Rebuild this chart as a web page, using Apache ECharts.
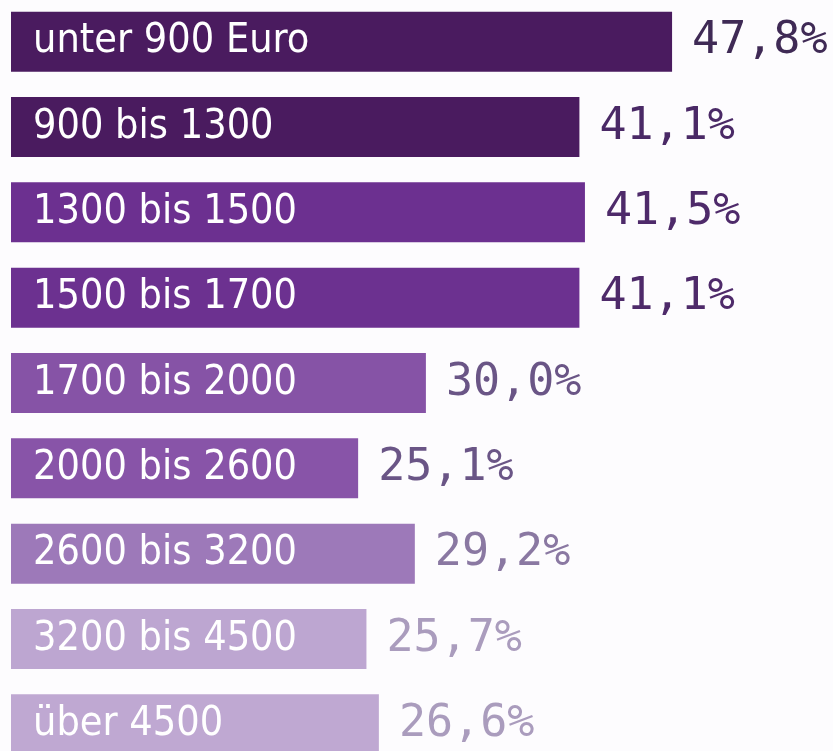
<!DOCTYPE html>
<html>
<head>
<meta charset="utf-8">
<script src="https://cdn.jsdelivr.net/npm/echarts@6/dist/echarts.min.js"></script>
<style>
  html, body { margin: 0; padding: 0; background: #fdfcfe; overflow: hidden; }
  #main { position: absolute; left: 0; top: -1px; width: 833px; height: 768px; }
</style>
</head>
<body>
<div id="main"></div>
<script>
// Einkommensklassen und Anteile (%)
var categories = ['unter 900 Euro', '900 bis 1300', '1300 bis 1500', '1500 bis 1700',
  '1700 bis 2000', '2000 bis 2600', '2600 bis 3200', '3200 bis 4500', 'über 4500'];
var values = [47.8, 41.1, 41.5, 41.1, 30.0, 25.1, 29.2, 25.7, 26.6];

var barColors = ['#4a1b5f', '#4a1b5f', '#6c3090', '#6c3190', '#8653a6',
  '#8854a8', '#9d79b9', '#bda6d1', '#bfa8d2'];
var valueColors = ['#3f2a55', '#4a2966', '#4e2a6a', '#4e2a6a', '#6a5586',
  '#6a5586', '#8a78a2', '#aa9cbd', '#aa9cbd'];

var chart = echarts.init(document.getElementById('main'), null, { renderer: 'canvas' });

var option = {
  backgroundColor: '#fdfcfe',
  animation: false,
  grid: {
    left: 11,
    top: 0,
    width: 691.5,
    bottom: 0
  },
  xAxis: {
    type: 'value',
    min: 0,
    max: 50,
    show: false
  },
  yAxis: {
    type: 'category',
    inverse: true,
    data: categories,
    axisLine: { show: false },
    axisTick: { show: false },
    axisLabel: {
      inside: true,
      margin: 22,
      color: '#ffffff',
      fontFamily: '"DejaVu Sans Condensed", "Liberation Sans", sans-serif',
      fontSize: 41
    },
    z: 10
  },
  series: [
    {
      type: 'bar',
      barWidth: 60,
      data: values.map(function (v, i) {
        return {
          value: v,
          itemStyle: { color: barColors[i] },
          label: { color: valueColors[i] }
        };
      }),
      label: {
        show: true,
        position: 'right',
        distance: 20,
        fontFamily: '"DejaVu Sans Mono", monospace',
        fontSize: 45,
        formatter: function (p) {
          return p.value.toFixed(1).replace('.', ',') + '%';
        }
      }
    }
  ]
};

chart.setOption(option);
</script>
</body>
</html>
